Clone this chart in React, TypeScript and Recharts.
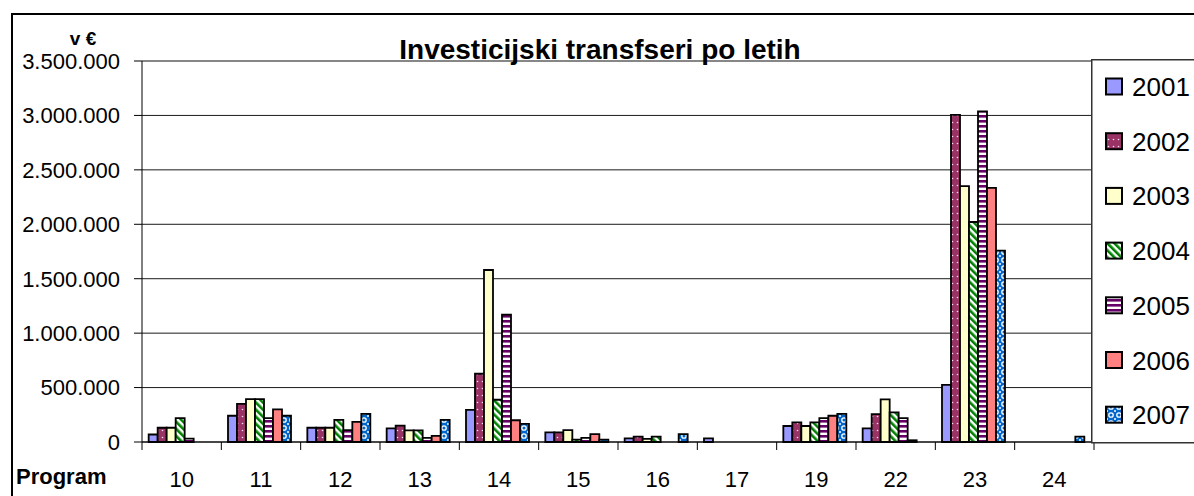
import React from 'react';
import { BarChart, Bar, XAxis, YAxis, CartesianGrid, ReferenceLine } from 'recharts';

const categories = ['10', '11', '12', '13', '14', '15', '16', '17', '19', '22', '23', '24'];
const years = ['2001', '2002', '2003', '2004', '2005', '2006', '2007'];

const v2001 = [69000, 241000, 131000, 125000, 295000, 88000, 34000, 34000, 147000, 125000, 525000, 0];
const v2002 = [131000, 350000, 131000, 150000, 627000, 88000, 50000, 0, 181000, 256000, 3005000, 0];
const v2003 = [131000, 394000, 131000, 106000, 1580000, 109000, 28000, 0, 147000, 391000, 2350000, 0];
const v2004 = [219000, 394000, 203000, 106000, 388000, 21000, 50000, 0, 181000, 272000, 2021000, 0];
const v2005 = [31000, 219000, 109000, 37000, 1170000, 37000, 0, 0, 219000, 219000, 3037000, 0];
const v2006 = [0, 300000, 184000, 56000, 200000, 73000, 0, 0, 241000, 16000, 2334000, 0];
const v2007 = [0, 241000, 259000, 203000, 167000, 21000, 73000, 0, 259000, 0, 1758000, 50000];

const seriesValues = [v2001, v2002, v2003, v2004, v2005, v2006, v2007];
const yTicks = [0, 500000, 1000000, 1500000, 2000000, 2500000, 3000000, 3500000];

const fills = ['#9999FF', 'url(#p2002)', '#FFFFCC', 'url(#p2004)', 'url(#p2005)', '#FF8080', 'url(#p2007)'];

const data = categories.map((c, i) => {
  const row: Record<string, number | string> = { name: c };
  years.forEach((y, k) => {
    row['y' + y] = seriesValues[k][i];
  });
  return row;
});

const fmt = (n: number) => String(n).replace(/\B(?=(\d{3})+(?!\d))/g, '.');

const FONT = '"Liberation Sans", Arial, sans-serif';
const X_TICK_MARGIN = 29;

function Patterns() {
  return (
    <defs>
      <pattern id="p2002" patternUnits="userSpaceOnUse" width="5" height="7">
        <rect width="5" height="7" fill="#993366" />
        <circle cx="2.5" cy="3.5" r="0.8" fill="#ffe0f0" />
      </pattern>
      <pattern id="p2004" patternUnits="userSpaceOnUse" width="5" height="5" patternTransform="rotate(-45)">
        <rect width="5" height="5" fill="#ffffff" />
        <rect width="2.6" height="5" fill="#008000" />
      </pattern>
      <pattern id="p2005" patternUnits="userSpaceOnUse" width="5" height="5">
        <rect width="5" height="5" fill="#ffffff" />
        <rect width="5" height="2.6" fill="#660066" />
      </pattern>
      <pattern id="p2007" patternUnits="userSpaceOnUse" width="8" height="8">
        <rect width="8" height="8" fill="#0066CC" />
        <circle cx="4" cy="4" r="2.2" fill="none" stroke="#ffffff" strokeWidth="1.3" />
        <circle cx="0" cy="0" r="1" fill="#ffffff" />
        <circle cx="8" cy="8" r="1" fill="#ffffff" />
        <circle cx="0" cy="8" r="1" fill="#ffffff" />
        <circle cx="8" cy="0" r="1" fill="#ffffff" />
      </pattern>
    </defs>
  );
}

// Category tick: label at band centre plus boundary tick marks at band edges
const CatTick = (props: any) => {
  const { x, y, payload, index } = props;
  const half = payload && typeof payload.offset === 'number' ? payload.offset : 0;
  const axisY = y - X_TICK_MARGIN;
  const isLast = index === categories.length - 1;
  return (
    <g>
      <line x1={x - half} x2={x - half} y1={axisY} y2={axisY + 8} stroke="#000" strokeWidth={1} />
      {isLast && <line x1={x + half} x2={x + half} y1={axisY} y2={axisY + 8} stroke="#000" strokeWidth={1} />}
      <text x={x} y={y} dy="0.71em" textAnchor="middle" fontSize={22} fill="#000" fontFamily={FONT}>
        {payload.value}
      </text>
    </g>
  );
};

export default function App() {
  return (
    <div
      style={{
        position: 'absolute',
        left: 0,
        top: 0,
        width: 1194,
        height: 496,
        overflow: 'hidden',
        background: '#fff',
        fontFamily: FONT,
      }}
    >
      <div
        style={{
          position: 'absolute',
          left: 11,
          top: 13,
          width: 1300,
          height: 600,
          border: '2px solid #000',
          boxSizing: 'border-box',
        }}
      />
      <div style={{ position: 'absolute', left: 0, top: 0 }}>
        <BarChart
          width={1194}
          height={496}
          data={data}
          margin={{ top: 61, right: 100, bottom: 0, left: 0 }}
          barCategoryGap="8.4%"
          barGap={0}
        >
          <Patterns />
          <CartesianGrid vertical={false} stroke="#1a1a1a" strokeWidth={1} />
          <XAxis
            dataKey="name"
            type="category"
            height={54}
            interval={0}
            tickLine={false}
            tickSize={0}
            tickMargin={X_TICK_MARGIN}
            axisLine={{ stroke: '#000', strokeWidth: 1 }}
            tick={<CatTick />}
          />
          <YAxis
            width={142}
            domain={[0, 3500000]}
            ticks={yTicks}
            interval={0}
            tickFormatter={fmt}
            tickSize={8}
            tickMargin={14}
            axisLine={{ stroke: '#000', strokeWidth: 1 }}
            tickLine={{ stroke: '#000', strokeWidth: 1 }}
            tick={{ fontSize: 22, fill: '#000', fontFamily: FONT }}
          />
          <ReferenceLine y={3500000} stroke="#808080" strokeWidth={1} />
          {years.map((y, k) => (
            <Bar
              key={y}
              dataKey={'y' + y}
              fill={fills[k]}
              stroke="#000"
              strokeWidth={1.8}
              isAnimationActive={false}
            />
          ))}
        </BarChart>
      </div>
      <svg
        width={1194}
        height={496}
        style={{ position: 'absolute', left: 0, top: 0, pointerEvents: 'none' }}
      >
        <text x={600} y={59} textAnchor="middle" fontSize={28} fontWeight="bold" fontFamily={FONT} fill="#000">
          Investicijski transfseri po letih
        </text>
        <text x={83} y={45} textAnchor="middle" fontSize={19} fontWeight="bold" fontFamily={FONT} fill="#000">
          v €
        </text>
        <text x={16} y={483.5} fontSize={22} fontWeight="bold" fontFamily={FONT} fill="#000">
          Program
        </text>
        <g transform="translate(1091,59)">
          <rect x={0.75} y={0.75} width={300} height={383} fill="#fff" stroke="#333" strokeWidth={1.5} />
          {years.map((y, k) => {
            const cy = 27.5 + k * 54.7;
            return (
              <g key={y}>
                <rect x={15} y={cy - 8} width={16} height={16} fill={fills[k]} stroke="#000" strokeWidth={2} />
                <text x={41} y={cy + 9.5} fontSize={26} fontFamily={FONT} fill="#000">
                  {y}
                </text>
              </g>
            );
          })}
        </g>
      </svg>
    </div>
  );
}
